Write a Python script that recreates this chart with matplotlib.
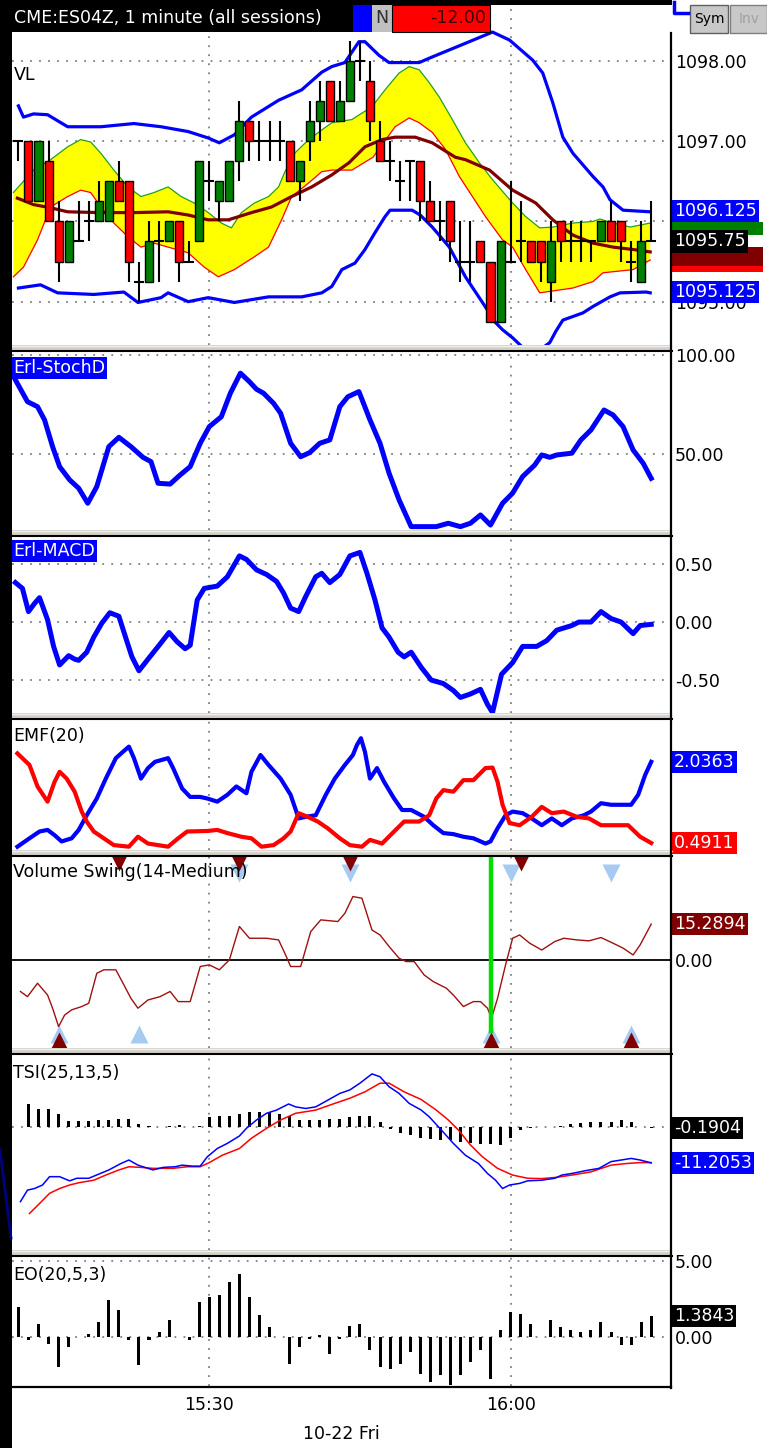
import numpy as np
import matplotlib.pyplot as plt
from matplotlib.patches import Rectangle
from matplotlib.lines import Line2D

plt.rcParams['font.family'] = ['DejaVu Sans']

# ---------------- data ----------------
# 1 minute bars, bar 19 = 15:30, bar 49 = 16:00
opens = [1097.00, 1097.00, 1096.25, 1096.75, 1096.00, 1095.50, 1095.75, 1096.00, 1096.00, 1096.00,
         1096.50, 1096.50, 1095.25, 1095.25, 1095.75, 1095.75, 1096.00, 1095.50, 1095.75, 1096.50,
         1096.25, 1096.25, 1096.75, 1097.25, 1097.00, 1097.00, 1097.00, 1097.00, 1096.50, 1097.00,
         1097.25, 1097.75, 1097.25, 1097.50, 1098.00, 1097.75, 1097.00, 1096.75, 1096.50, 1096.75,
         1096.75, 1096.25, 1096.00, 1096.25, 1095.50, 1095.50, 1095.75, 1095.50, 1094.75, 1095.50,
         1095.75, 1095.75, 1095.75, 1095.25, 1096.00, 1095.75, 1095.75, 1095.75, 1095.75, 1096.00,
         1096.00, 1095.50, 1095.25, 1095.75]
highs = [1097.00, 1097.00, 1097.00, 1097.00, 1096.25, 1096.00, 1096.25, 1096.25, 1096.50, 1096.50,
         1096.75, 1096.50, 1095.50, 1096.00, 1096.00, 1096.00, 1096.00, 1095.75, 1096.75, 1096.75,
         1096.50, 1096.75, 1097.50, 1097.25, 1097.25, 1097.25, 1097.25, 1097.00, 1096.75, 1097.50,
         1097.75, 1097.75, 1097.75, 1098.25, 1098.25, 1098.00, 1097.25, 1097.00, 1096.75, 1096.75,
         1096.75, 1096.50, 1096.25, 1096.25, 1096.00, 1096.00, 1095.75, 1095.50, 1095.75, 1096.50,
         1096.25, 1095.75, 1095.75, 1096.00, 1096.00, 1096.00, 1096.00, 1095.75, 1096.00, 1096.25,
         1096.00, 1095.75, 1096.00, 1096.25]
lows = [1096.75, 1096.25, 1096.25, 1096.00, 1095.25, 1095.50, 1095.75, 1095.75, 1096.00, 1096.00,
        1096.25, 1095.25, 1095.00, 1095.25, 1095.25, 1095.75, 1095.25, 1095.50, 1095.75, 1096.25,
        1096.00, 1096.25, 1096.50, 1096.75, 1096.75, 1096.75, 1096.75, 1096.50, 1096.25, 1096.75,
        1097.00, 1097.25, 1097.25, 1097.50, 1097.75, 1097.00, 1096.75, 1096.50, 1096.25, 1096.25,
        1096.00, 1096.00, 1095.75, 1095.50, 1095.25, 1095.25, 1095.50, 1094.75, 1094.75, 1095.50,
        1095.50, 1095.50, 1095.25, 1095.00, 1095.50, 1095.50, 1095.50, 1095.50, 1095.75, 1095.75,
        1095.50, 1095.25, 1095.25, 1095.75]
closes = [1097.00, 1096.25, 1097.00, 1096.00, 1095.50, 1096.00, 1095.75, 1096.00, 1096.25, 1096.50,
          1096.25, 1095.50, 1095.25, 1095.75, 1095.75, 1096.00, 1095.50, 1095.50, 1096.75, 1096.50,
          1096.50, 1096.75, 1097.25, 1097.00, 1097.00, 1097.00, 1097.00, 1096.50, 1096.75, 1097.25,
          1097.50, 1097.25, 1097.50, 1098.00, 1098.00, 1097.25, 1096.75, 1096.75, 1096.50, 1096.75,
          1096.25, 1096.00, 1096.00, 1095.75, 1095.50, 1095.50, 1095.50, 1094.75, 1095.75, 1095.50,
          1095.75, 1095.50, 1095.50, 1095.75, 1095.75, 1095.75, 1095.75, 1095.75, 1096.00, 1095.75,
          1095.75, 1095.50, 1095.75, 1095.75]

# price overlays (bar position, price)
bb_up_x = [0, 0.5, 1.5, 2.9, 4.9, 8.2, 11.5, 14.2, 16.9, 18.9, 20.0, 21.5, 23.2, 25.9, 28.2, 30.2, 31.2,
           32.5, 33.9, 34.5, 35.9, 36.9, 39.9, 41.2, 44.5, 47.2, 48.9, 51.2, 52.2, 53.2, 54.2, 55.2,
           57.2, 58.2, 58.9, 60.2, 62.9]
bb_up_y = [1097.44, 1097.30, 1097.34, 1097.33, 1097.18, 1097.18, 1097.22, 1097.18, 1097.12, 1097.04,
           1096.98, 1097.08, 1097.30, 1097.51, 1097.64, 1097.86, 1097.93, 1097.98, 1098.24, 1098.24,
           1098.07, 1097.98, 1097.98, 1098.05, 1098.22, 1098.36, 1098.26, 1098.01, 1097.85, 1097.48,
           1097.05, 1096.85, 1096.56, 1096.43, 1096.27, 1096.14, 1096.12]
bb_lo_x = [0, 2.2, 3.9, 7.5, 10.5, 11.9, 14.2, 14.9, 16.9, 18.9, 21.5, 24.9, 28.2, 30.2, 31.2, 32.2,
           33.5, 34.5, 35.5, 36.5, 37.0, 39.2, 40.0, 41.2, 42.9, 44.5, 46.2, 47.5, 48.2, 49.2, 50.2,
           51.7, 52.9, 53.5, 54.2, 56.2, 57.2, 58.9, 59.9, 62.5, 62.9]
bb_lo_y = [1095.17, 1095.21, 1095.11, 1095.09, 1095.12, 1094.99, 1095.05, 1095.11, 1095.00, 1095.05,
           1094.99, 1095.06, 1095.06, 1095.11, 1095.19, 1095.40, 1095.48, 1095.65, 1095.86, 1096.06,
           1096.14, 1096.14, 1096.08, 1095.93, 1095.68, 1095.31, 1094.99, 1094.74, 1094.65, 1094.55,
           1094.43, 1094.38, 1094.49, 1094.63, 1094.77, 1094.86, 1094.94, 1095.06, 1095.11, 1095.12,
           1095.11]
env_up_x = [-0.5, 1.5, 3.2, 4.9, 6.2, 7.2, 8.2, 9.5, 10.9, 12.2, 13.5, 14.9, 16.2, 17.5, 18.9, 20.2,
            21.2, 22.2, 23.5, 24.9, 25.9, 26.5, 27.5, 28.9, 30.2, 31.2, 33.2, 35.2, 36.5, 37.9, 38.9,
            39.9, 40.9, 41.9, 43.2, 44.5, 45.9, 47.2, 49.2, 50.5, 51.9, 53.2, 55.2, 57.2, 57.9, 59.2,
            60.9, 62.9]
env_up_y = [1096.36, 1096.64, 1096.77, 1096.93, 1097.02, 1096.99, 1096.85, 1096.64, 1096.43, 1096.31,
            1096.36, 1096.43, 1096.31, 1096.23, 1096.11, 1095.98, 1095.92, 1096.11, 1096.23, 1096.31,
            1096.43, 1096.61, 1096.85, 1097.02, 1097.14, 1097.23, 1097.27, 1097.43, 1097.64, 1097.85,
            1097.93, 1097.89, 1097.73, 1097.55, 1097.27, 1096.98, 1096.73, 1096.52, 1096.23, 1096.06,
            1095.92, 1095.93, 1095.98, 1096.00, 1096.03, 1095.98, 1095.93, 1095.98]
env_lo_x = [-0.5, 0.5, 1.9, 3.2, 4.9, 6.2, 7.2, 8.2, 9.5, 10.9, 12.2, 13.5, 14.9, 16.9, 18.5, 19.9,
            21.5, 23.5, 24.9, 26.2, 27.2, 28.9, 30.2, 31.2, 33.2, 35.3, 37.5, 38.9, 39.9, 41.2, 42.5,
            43.9, 45.2, 46.5, 48.2, 49.2, 50.5, 51.9, 55.2, 57.2, 58.2, 61.2, 62.9]
env_lo_y = [1095.31, 1095.43, 1095.77, 1096.18, 1096.31, 1096.39, 1096.36, 1096.18, 1095.98, 1095.81,
            1095.68, 1095.73, 1095.68, 1095.61, 1095.43, 1095.31, 1095.40, 1095.56, 1095.68, 1096.02,
            1096.31, 1096.48, 1096.62, 1096.64, 1096.64, 1096.80, 1097.18, 1097.29, 1097.23, 1097.11,
            1096.90, 1096.56, 1096.31, 1096.06, 1095.77, 1095.68, 1095.40, 1095.11, 1095.17, 1095.25,
            1095.36, 1095.40, 1095.52]
ma_x = [-0.1, 1.5, 3.2, 4.9, 8.2, 11.5, 14.9, 16.9, 18.9, 20.9, 23.2, 25.2, 27.2, 29.2, 31.2, 32.9,
        34.5, 36.2, 37.5, 39.5, 41.2, 43.5, 44.5, 46.9, 49.2, 51.5, 53.2, 55.2, 57.2, 59.2, 61.2, 62.9]
ma_y = [1096.29, 1096.21, 1096.17, 1096.12, 1096.11, 1096.11, 1096.12, 1096.08, 1096.02, 1096.02,
        1096.11, 1096.18, 1096.31, 1096.43, 1096.58, 1096.73, 1096.93, 1097.02, 1097.05, 1097.05,
        1096.98, 1096.80, 1096.77, 1096.64, 1096.39, 1096.23, 1096.02, 1095.83, 1095.73, 1095.68,
        1095.65, 1095.62]

stoch_x = [-0.3, 0.9, 1.9, 2.6, 3.4, 4.1, 5.1, 6.0, 6.9, 7.8, 9.0, 10.0, 11.2, 12.4, 13.2, 13.9, 15.1,
           16.1, 17.1, 18.1, 19.0, 20.2, 21.1, 22.1, 23.0, 23.7, 24.4, 25.4, 26.1, 27.1, 28.1, 29.0,
           30.0, 31.0, 32.0, 32.8, 33.9, 35.0, 36.0, 36.9, 37.9, 39.1, 40.4, 41.6, 42.8, 44.0, 45.0,
           46.0, 47.0, 48.2, 49.2, 50.2, 51.4, 52.1, 52.9, 53.6, 55.1, 56.0, 57.0, 58.3, 59.2, 60.2,
           61.2, 62.2, 63.0]
stoch_y = [87.4, 76.4, 73.9, 67.2, 53.7, 43.6, 36.9, 32.7, 25.1, 33.5, 53.7, 58.4, 53.7, 48.3, 46.1,
           35.2, 34.8, 39.4, 43.6, 55.4, 63.8, 68.8, 80.7, 90.8, 86.5, 82.7, 80.7, 75.6, 70.6, 55.4,
           48.6, 50.7, 55.4, 57.1, 73.9, 78.9, 81.5, 67.2, 55.4, 40.3, 26.8, 13.3, 13.3, 13.3, 15.0,
           13.3, 15.0, 19.2, 14.1, 25.1, 30.2, 38.6, 44.4, 49.5, 48.3, 49.5, 50.4, 57.1, 62.1, 72.2,
           69.7, 63.8, 52.0, 45.3, 37.7]

macd_x = [-0.3, 0.4, 1.0, 1.6, 2.1, 2.9, 3.5, 4.1, 5.0, 5.6, 6.0, 6.8, 7.5, 8.3, 9.1, 10.0, 10.7,
          11.3, 12.0, 12.9, 14.1, 15.0, 15.8, 16.6, 17.1, 17.8, 18.5, 19.8, 20.8, 22.0, 22.7, 23.7,
          24.7, 25.7, 26.4, 27.1, 27.9, 28.6, 29.6, 30.2, 31.0, 32.0, 33.0, 34.0, 34.7, 35.5, 36.2,
          36.9, 37.8, 38.4, 39.1, 40.1, 41.1, 42.3, 43.3, 44.0, 45.0, 46.0, 46.7, 47.2, 48.1, 49.2,
          50.2, 51.6, 52.6, 53.6, 55.1, 55.8, 57.0, 58.0, 59.0, 60.0, 61.2, 61.9, 63.0]
macd_y = [0.34, 0.29, 0.09, 0.16, 0.21, 0.02, -0.21, -0.37, -0.29, -0.32, -0.33, -0.26, -0.13,
          -0.01, 0.08, 0.05, -0.14, -0.30, -0.42, -0.32, -0.19, -0.09, -0.17, -0.23, -0.20, 0.19,
          0.29, 0.31, 0.39, 0.57, 0.54, 0.45, 0.41, 0.35, 0.25, 0.12, 0.09, 0.22, 0.39, 0.42, 0.34,
          0.41, 0.57, 0.60, 0.42, 0.19, -0.05, -0.13, -0.26, -0.30, -0.26, -0.39, -0.50, -0.53,
          -0.59, -0.65, -0.62, -0.58, -0.71, -0.78, -0.45, -0.35, -0.21, -0.21, -0.16, -0.07, -0.03,
          0.00, 0.00, 0.09, 0.03, 0.00, -0.10, -0.03, -0.02]

emf_b_x = [-0.1, 1.1, 2.1, 2.9, 3.6, 4.3, 5.3, 6.0, 6.8, 7.8, 8.7, 9.7, 10.4, 11.0, 11.5, 12.2, 12.9,
           13.6, 14.9, 15.4, 16.3, 17.1, 18.1, 18.8, 19.8, 20.8, 21.7, 22.7, 23.2, 24.1, 24.9, 26.1,
           27.1, 27.9, 28.6, 29.6, 30.6, 31.5, 32.5, 33.3, 33.7, 34.1, 34.5, 35.0, 35.7, 36.4, 37.4,
           38.2, 39.1, 40.4, 41.3, 42.3, 43.3, 44.3, 45.3, 46.5, 47.0, 47.7, 48.5, 49.2, 50.2, 51.1,
           52.1, 53.1, 54.1, 55.1, 56.3, 57.0, 58.0, 59.0, 61.0, 61.7, 62.4, 63.0]
emf_b_y = [0.42, 0.58, 0.71, 0.74, 0.64, 0.52, 0.58, 0.74, 1.02, 1.34, 1.72, 2.11, 2.23, 2.33, 2.11,
           1.72, 1.92, 2.04, 2.11, 1.92, 1.53, 1.37, 1.37, 1.34, 1.28, 1.41, 1.57, 1.44, 1.85, 2.17,
           1.98, 1.72, 1.41, 0.96, 0.99, 1.02, 1.41, 1.72, 1.98, 2.17, 2.36, 2.49, 2.23, 1.72, 1.92,
           1.66, 1.34, 1.12, 1.12, 0.99, 0.83, 0.68, 0.66, 0.61, 0.58, 0.48, 0.52, 0.77, 1.02, 1.09,
           1.06, 0.96, 0.83, 0.96, 0.83, 0.96, 1.02, 1.09, 1.25, 1.22, 1.22, 1.41, 1.79, 2.04]
emf_r_x = [-0.1, 1.1, 1.9, 2.9, 3.6, 4.1, 4.8, 5.6, 6.3, 6.8, 7.5, 8.5, 9.5, 11.0, 11.9, 12.9, 14.9,
           15.9, 16.8, 18.8, 19.8, 20.8, 22.2, 23.2, 24.2, 25.4, 26.4, 27.1, 27.9, 28.8, 29.8, 30.8,
           32.0, 33.0, 34.2, 35.0, 36.2, 37.4, 38.4, 39.9, 40.9, 41.6, 42.3, 43.3, 44.3, 45.3, 46.5,
           47.2, 47.7, 48.2, 48.9, 49.9, 51.1, 52.1, 53.1, 54.3, 55.6, 56.8, 58.0, 59.0, 60.7, 61.9,
           63.0]
emf_r_y = [2.20, 1.98, 1.57, 1.28, 1.66, 1.85, 1.72, 1.47, 1.09, 0.90, 0.71, 0.58, 0.45, 0.42, 0.61,
           0.48, 0.42, 0.58, 0.71, 0.72, 0.74, 0.68, 0.61, 0.58, 0.42, 0.45, 0.58, 0.71, 1.06, 0.99,
           0.90, 0.77, 0.58, 0.45, 0.42, 0.55, 0.48, 0.71, 0.90, 0.90, 1.02, 1.34, 1.50, 1.47, 1.69,
           1.69, 1.92, 1.93, 1.66, 1.22, 0.87, 0.83, 0.99, 1.18, 1.06, 1.09, 0.99, 0.96, 0.83, 0.83,
           0.83, 0.61, 0.49]

vs_x = [0.2, 0.9, 1.9, 2.9, 3.4, 4.0, 4.6, 5.3, 6.3, 7.0, 7.8, 8.5, 9.7, 10.5, 11.2, 11.9, 12.9, 14.1,
        15.1, 15.9, 17.1, 18.1, 19.0, 20.0, 21.0, 22.0, 23.0, 24.7, 25.9, 26.6, 27.1, 28.1, 29.1,
        30.1, 31.8, 32.5, 33.3, 34.2, 35.2, 36.0, 36.9, 37.9, 38.6, 39.4, 40.4, 41.3, 42.6, 43.3,
        44.3, 45.3, 46.0, 46.7, 47.1, 47.7, 48.5, 49.2, 49.9, 50.9, 52.1, 53.4, 54.3, 55.6, 56.8,
        58.0, 59.2, 60.2, 61.2, 61.9, 63.0]
vs_y = [-13.4, -15.6, -9.9, -14.9, -20.5, -28.3, -23.4, -21.2, -19.8, -18.4, -5.7, -4.2, -4.2, -10.6,
        -16.3, -20.5, -17.0, -15.6, -13.4, -17.7, -17.7, -2.8, -2.1, -4.2, 0.0, 14.2, 9.2, 9.2, 8.5,
        2.1, -2.8, -2.8, 12.0, 17.0, 16.3, 19.8, 26.9, 26.2, 12.7, 10.6, 5.7, 0.7, -0.7, -0.7, -6.4,
        -9.2, -12.0, -14.9, -19.8, -17.7, -17.7, -20.5, -24.8, -16.3, -2.1, 9.2, 10.6, 7.1, 4.2, 7.8,
        9.2, 8.5, 8.1, 9.5, 7.1, 5.0, 2.1, 6.4, 15.2]
swing_top_dark = [10, 22, 33, 50]
swing_top_light = [22, 33, 49, 59]
swing_bot_light = [4, 12, 47, 61]
swing_bot_dark = [4, 47, 61]
swing_signal = 47

tsi_b_x = [0.2, 0.9, 1.6, 2.4, 3.1, 4.1, 5.1, 5.8, 7.0, 8.0, 9.0, 10.2, 11.0, 11.9, 12.9, 13.4, 14.4,
           15.6, 16.3, 17.3, 18.1, 18.8, 19.8, 20.8, 22.0, 22.7, 23.7, 24.7, 25.7, 26.9, 27.6, 28.6,
           29.6, 30.8, 32.0, 33.0, 34.0, 35.2, 36.0, 36.9, 37.9, 38.9, 40.1, 40.9, 42.1, 43.3, 44.5,
           45.8, 46.7, 47.5, 48.2, 48.9, 49.9, 50.7, 52.1, 53.4, 54.1, 55.1, 56.5, 57.8, 59.0, 60.0,
           61.0, 61.9, 63.0]
tsi_b_y = [-23.3, -19.7, -19.2, -18.1, -15.5, -15.5, -16.8, -16.0, -16.0, -14.7, -13.4, -11.4, -10.3,
           -11.9, -12.9, -13.4, -12.6, -12.4, -11.9, -12.2, -12.2, -9.3, -6.7, -5.1, -2.8, -0.4, 2.2,
           4.3, 5.3, 7.2, 6.3, 5.8, 6.3, 8.4, 10.5, 11.6, 13.7, 16.6, 15.7, 12.6, 10.5, 7.4, 5.3, 3.2,
           -0.9, -5.1, -8.8, -11.4, -14.5, -16.6, -19.2, -18.1, -17.6, -16.8, -16.6, -16.0, -15.0,
           -14.5, -13.6, -12.9, -10.8, -10.3, -9.8, -10.3, -11.2]
tsi_r_x = [1.1, 2.1, 3.1, 4.1, 5.1, 6.0, 7.5, 8.7, 10.0, 11.0, 12.2, 13.4, 15.4, 16.8, 18.1, 19.0,
           20.3, 22.0, 23.2, 24.7, 26.1, 27.6, 29.6, 31.5, 33.0, 34.5, 36.0, 36.9, 38.4, 40.1, 41.6,
           42.8, 43.8, 45.0, 46.2, 47.7, 49.2, 50.7, 52.1, 53.6, 55.1, 57.0, 59.0, 60.5, 61.9, 63.0]
tsi_r_y = [-27.0, -23.9, -20.7, -19.2, -18.1, -17.4, -16.6, -15.0, -13.4, -12.4, -12.6, -12.9, -12.9,
           -12.4, -12.4, -11.1, -8.8, -6.7, -3.5, -0.4, 2.2, 4.3, 5.3, 7.4, 9.0, 11.0, 13.7, 13.7,
           11.0, 8.6, 5.3, 2.2, -0.9, -5.6, -9.3, -12.9, -15.0, -16.0, -16.1, -15.7, -15.0, -14.0,
           -11.9, -11.4, -11.1, -11.1]
tsi_hist = [0, 7.3, 5.7, 5.7, 4.2, 1.9, 1.9, 1.9, 2.1, 2.3, 2.6, 2.6, 1.0, 0.2, 0, 0.2, 0.5, 0, 0.2,
            3.1, 3.3, 3.6, 4.2, 4.7, 4.7, 4.7, 4.2, 3.6, 2.1, 2.1, 2.3, 2.6, 2.6, 3.1, 3.3, 3.6, 1.6,
            -0.5, -1.9, -2.6, -3.3, -3.6, -4.0, -4.2, -4.7, -5.0, -5.2, -5.2, -5.7, -3.3, -1.0, -0.2,
            0, 0, 0.2, 0.8, 1.25, 1.5, 1.6, 1.6, 2.1, 1.6, 0, -0.19]

eo_vals = [1.97, -0.22, 0.88, -0.44, -1.97, -0.66, 0, 0.22, 0.99, 2.41, 1.75, -0.22, -1.86, -0.22,
           0.33, 1.10, 0, -0.18, 2.30, 2.63, 2.74, 3.62, 4.12, 2.63, 1.43, 0.66, 0, -1.75, -0.66,
           -0.11, 0.11, -1.10, -0.11, 0.70, 0.83, -0.88, -1.97, -2.08, -1.75, -0.99, -2.41, -2.96,
           -2.52, -3.18, -2.52, -1.64, -0.88, -2.74, 0.44, 1.64, 1.54, 0.88, 0, 1.10, 0.66, 0.44,
           0.33, 0.44, 0.99, 0.33, -0.55, -0.55, 0.99, 1.38]

time_ticks = [19, 49]
time_labels = ['15:30', '16:00']

# ---------------- figure ----------------
W, H = 767, 1448
fig = plt.figure(figsize=(W / 100, H / 100), dpi=100)
fig.patch.set_facecolor('white')

BLUE = '#0000ff'
RED = '#ff0000'
MAROON = '#800000'
LBLUE = '#a6caf0'
GRID = '#808080'
DOT = (0, (1, 4))
FS = 12.5


def fx(x):
    return x / W


def fy(y):
    return 1 - y / H


def panel(top, bot, ylim):
    ax = fig.add_axes([fx(12), fy(bot), fx(671) - fx(12), (bot - top) / H])
    ax.set_xlim(-0.64, 64.97)
    ax.set_ylim(*ylim)
    for s in ax.spines.values():
        s.set_visible(False)
    ax.set_xticks([])
    ax.yaxis.tick_right()
    ax.tick_params(axis='y', length=0, pad=3, labelsize=FS)
    for t in time_ticks:
        ax.axvline(t, color=GRID, lw=1.3, ls=DOT, zorder=0)
    return ax


def hgrid(ax, vals):
    for v in vals:
        ax.axhline(v, color=GRID, lw=1.3, ls=DOT, zorder=0)


def rbox(ax, y, s, fc, tc='white', z=6):
    ax.text(1 + 3 / 659, y, s, transform=ax.get_yaxis_transform(), ha='left', va='center',
            fontsize=FS, color=tc, clip_on=False, zorder=z,
            bbox=dict(boxstyle='square,pad=0.12', fc=fc, ec='none'))


def plain_box(ax, y0, y1, fc, z=5):
    # coloured value marker that sits behind the stacked price labels
    ax.add_patch(Rectangle((1.0, y0), 92 / 659, y1 - y0, transform=ax.get_yaxis_transform(),
                           fc=fc, ec='none', clip_on=False, zorder=z))


# ---- price panel ----
ax = panel(8, 345, (1094.46, 1098.66))
hgrid(ax, [1098, 1097, 1096, 1095])
ax.set_yticks([1098, 1097, 1095])
ax.set_yticklabels(['1098.00', '1097.00', '1095.00'])
ax.fill(np.concatenate([env_up_x, env_lo_x[::-1]]), np.concatenate([env_up_y, env_lo_y[::-1]]),
        color='#ffff00', lw=0, zorder=1)
ax.plot(env_up_x, env_up_y, color='#22a022', lw=0.9, zorder=2)
ax.plot(env_lo_x, env_lo_y, color=RED, lw=0.9, zorder=2)
ax.plot(ma_x, ma_y, color=MAROON, lw=2.3, zorder=3)
ax.plot(bb_up_x, bb_up_y, color=BLUE, lw=2.3, zorder=3)
ax.plot(bb_lo_x, bb_lo_y, color=BLUE, lw=2.3, zorder=3)

idx = np.arange(len(opens))
o = np.array(opens)
c = np.array(closes)
ax.vlines(idx, lows, highs, color='black', lw=1.5, zorder=4)
body_lo = np.minimum(o, c)
body_h = np.abs(c - o)
cols = np.where(c > o, '#008000', RED)
mask = body_h > 0
ax.bar(idx[mask], body_h[mask], bottom=body_lo[mask], width=0.8, color=cols[mask],
       edgecolor='black', lw=1, zorder=5)
ax.hlines(o[~mask], idx[~mask] - 0.5, idx[~mask] + 0.5, color='black', lw=1.5, zorder=5)

plain_box(ax, 1095.83, 1095.99, '#008000')
plain_box(ax, 1095.37, 1095.44, RED)
plain_box(ax, 1095.44, 1095.68, MAROON)
rbox(ax, 1095.75, '1095.75', 'black', z=8)
rbox(ax, 1096.125, '1096.125', BLUE, z=9)
rbox(ax, 1095.125, '1095.125', BLUE, z=9)
fig.text(fx(14), fy(75), 'VL', fontsize=FS, va='center', ha='left')

# ---- StochD ----
ax = panel(352, 530, (11.6, 101.5))
hgrid(ax, [100, 50])
ax.set_yticks([100, 50])
ax.set_yticklabels(['100.00', '50.00'])
ax.plot(stoch_x, stoch_y, color=BLUE, lw=3.6, solid_joinstyle='round')
fig.text(fx(13), fy(368), 'Erl-StochD', fontsize=FS, color='white', va='center', ha='left',
         bbox=dict(boxstyle='square,pad=0.12', fc=BLUE, ec='none'))

# ---- MACD ----
ax = panel(537, 713, (-0.784, 0.733))
hgrid(ax, [0.5, 0, -0.5])
ax.set_yticks([0.5, 0, -0.5])
ax.set_yticklabels(['0.50', '0.00', '-0.50'])
ax.plot(macd_x, macd_y, color=BLUE, lw=3.6, solid_joinstyle='round')
fig.text(fx(13), fy(551), 'Erl-MACD', fontsize=FS, color='white', va='center', ha='left',
         bbox=dict(boxstyle='square,pad=0.12', fc=BLUE, ec='none'))

# ---- EMF ----
ax = panel(720, 850, (0.357, 2.838))
ax.set_yticks([])
ax.plot(emf_b_x, emf_b_y, color=BLUE, lw=3.0, solid_joinstyle='round')
ax.plot(emf_r_x, emf_r_y, color=RED, lw=3.0, solid_joinstyle='round')
rbox(ax, 2.0363, '2.0363', BLUE)
rbox(ax, 0.4911, '0.4911', RED)
fig.text(fx(13), fy(736), 'EMF(20)', fontsize=FS, va='center', ha='left')

# ---- Volume Swing ----
ax = panel(857, 1048, (-37.4, 43.7))
ax.set_yticks([0])
ax.set_yticklabels(['0.00'])
ax.axhline(0, color='black', lw=1.3, zorder=1)
ax.plot(vs_x, vs_y, color='#a01010', lw=1.0, zorder=3)
trx = ax.get_xaxis_transform()
ax.plot(swing_top_light, [0.915] * len(swing_top_light), 'v', color=LBLUE, ms=13, mec='none',
        transform=trx, zorder=2)
ax.plot(swing_top_dark, [0.972] * len(swing_top_dark), 'v', color=MAROON, ms=13, mec='none',
        transform=trx, zorder=2, clip_on=False)
ax.plot(swing_bot_light, [0.075] * len(swing_bot_light), '^', color=LBLUE, ms=13, mec='none',
        transform=trx, zorder=2)
ax.plot(swing_bot_dark, [0.035] * len(swing_bot_dark), '^', color=MAROON, ms=13, mec='none',
        transform=trx, zorder=2, clip_on=False)
ax.plot([swing_signal, swing_signal], [0.09, 1.0], color='#00e000', lw=3.2, transform=trx, zorder=4)
rbox(ax, 15.2894, '15.2894', MAROON)
fig.text(fx(13), fy(872), 'Volume Swing(14-Medium)', fontsize=FS, va='center', ha='left', zorder=5)

# ---- TSI ----
ax = panel(1055, 1250, (-38.4, 22.5))
ax.set_yticks([])
hgrid(ax, [0])
ax.bar(idx, tsi_hist, width=0.3, color='black', zorder=2)
ax.plot(tsi_r_x, tsi_r_y, color=RED, lw=1.1, zorder=3)
ax.plot(tsi_b_x, tsi_b_y, color=BLUE, lw=1.1, zorder=3)
rbox(ax, -0.19, '-0.1904', 'black')
rbox(ax, -11.2, '-11.2053', BLUE)
fig.text(fx(13), fy(1073), 'TSI(25,13,5)', fontsize=FS, va='center', ha='left')

# ---- EO ----
ax = panel(1257, 1386, (-3.22, 5.26))
hgrid(ax, [5, 0])
ax.set_yticks([5, 0])
ax.set_yticklabels(['5.00', '0.00'])
ax.bar(idx, eo_vals, width=0.3, color='black', zorder=2)
rbox(ax, 1.3843, '1.3843', 'black')
ax.set_xticks(time_ticks)
ax.set_xticklabels(time_labels)
ax.tick_params(axis='x', length=0, pad=7, labelsize=FS)
ax.set_xlabel('10-22 Fri', fontsize=FS, labelpad=8)
fig.text(fx(13), fy(1275), 'EO(20,5,3)', fontsize=FS, va='center', ha='left')

# ---------------- frame pieces ----------------
for a, b in [(345, 352), (530, 537), (713, 720), (850, 857), (1048, 1055), (1250, 1257)]:
    fig.add_artist(Rectangle((fx(12), fy(b)), fx(672) - fx(12), (b - a) / H, fc='#d4d0c8',
                             ec='none', zorder=4))
    fig.add_artist(Line2D([fx(12), fx(672)], [fy(b - 1), fy(b - 1)], color='black', lw=1.5, zorder=4))
    fig.add_artist(Line2D([fx(12), fx(672)], [fy(a + 1), fy(a + 1)], color='#f0f0f0', lw=1, zorder=4))
fig.add_artist(Line2D([fx(671), fx(671)], [fy(33), fy(1388)], color='black', lw=1.6, zorder=4))
fig.add_artist(Line2D([fx(12), fx(671)], [fy(1387), fy(1387)], color='black', lw=1.6, zorder=4))

# header
fig.add_artist(Rectangle((0, fy(5)), fx(672), 5 / H, fc='black', ec='none', zorder=5))
fig.add_artist(Rectangle((0, fy(32)), fx(353), 32 / H, fc='black', ec='none', zorder=5))
fig.add_artist(Rectangle((fx(353), fy(32)), fx(372) - fx(353), 27 / H, fc=BLUE, ec='none', zorder=5))
fig.add_artist(Rectangle((fx(372), fy(32)), fx(392) - fx(372), 27 / H, fc='#c0c0c0', ec='none', zorder=5))
fig.add_artist(Rectangle((fx(392), fy(32)), fx(490) - fx(392), 27 / H, fc=RED, ec='black', lw=0.8,
                         zorder=5))
fig.text(fx(14), fy(18), 'CME:ES04Z, 1 minute (all sessions)', fontsize=FS, color='white',
         va='center', ha='left', zorder=6)
fig.text(fx(382), fy(18), 'N', fontsize=FS, color='#303030', va='center', ha='center', zorder=6)
fig.text(fx(486), fy(18), '-12.00', fontsize=FS, color='#400000', va='center', ha='right', zorder=6)

# buttons top right
fig.add_artist(Rectangle((fx(690), fy(33)), fx(728) - fx(690), 28 / H, fc='#c8c8c8', ec='#606060',
                         lw=1, zorder=5))
fig.add_artist(Rectangle((fx(730), fy(33)), fx(767) - fx(730), 28 / H, fc='#c8c8c8', ec='#808080',
                         lw=1, zorder=5))
fig.text(fx(709), fy(19), 'Sym', fontsize=10, color='black', va='center', ha='center', zorder=6)
fig.text(fx(749), fy(19), 'Inv', fontsize=10, color='#a0a0a0', va='center', ha='center', zorder=6)
fig.add_artist(Line2D([fx(674), fx(674), fx(688)], [fy(2), fy(13), fy(13)], color=BLUE, lw=2.5, zorder=5))

# left border
fig.add_artist(Rectangle((0, 0), fx(12), 1, fc='black', ec='none', zorder=7))
fig.add_artist(Line2D([fx(0), fx(11)], [fy(1150), fy(1238)], color='#000080', lw=2, zorder=8))

fig.savefig('out.png', dpi=100)
